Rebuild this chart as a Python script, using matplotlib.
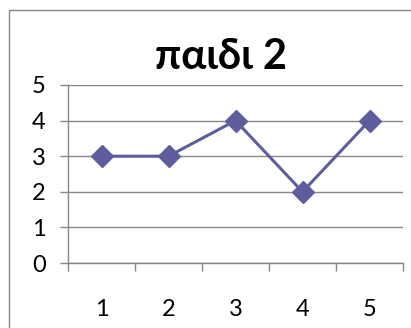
import matplotlib.pyplot as plt
from matplotlib.patches import Rectangle

# Data
categories = [1, 2, 3, 4, 5]
values = [3, 3, 4, 2, 4]
title = "παιδι 2"

plt.rcParams['font.family'] = ['Lato', 'Noto Sans', 'DejaVu Sans']

line_color = "#5E5E9E"
grid_color = "#878787"

fig = plt.figure(figsize=(4.11, 3.28), dpi=100)

# Chart area border
fig.patches.append(Rectangle((8.5 / 411, -0.1), 1.0, 1.1 - 9.5 / 328,
                             transform=fig.transFigure, fill=False,
                             edgecolor="#868686", linewidth=1.0))

ax = fig.add_axes([68 / 411, 65 / 328, 335 / 411, 178 / 328])

ax.plot(categories, values, color=line_color, linewidth=2.2,
        marker="D", markersize=11, markerfacecolor=line_color,
        markeredgecolor=line_color, zorder=3)

ax.set_xlim(0.5, 5.5)
ax.set_ylim(0, 5)
ax.set_yticks(range(0, 6))
ax.set_xticks(categories)
ax.set_xticks([c - 0.5 for c in categories] + [5.5], minor=True)

ax.grid(axis="y", color=grid_color, linewidth=1.0)
ax.set_axisbelow(True)

for side in ["top", "right"]:
    ax.spines[side].set_visible(False)
for side in ["left", "bottom"]:
    ax.spines[side].set_color(grid_color)
    ax.spines[side].set_linewidth(1.0)

ax.tick_params(axis="y", length=6, width=1.0, color=grid_color,
               labelsize=17, pad=10)
ax.tick_params(axis="x", which="major", length=0, labelsize=17, pad=26)
ax.tick_params(axis="x", which="minor", length=5.5, width=1.0, color=grid_color)

fig.text(221 / 411, 1 - 57 / 328, title, ha="center", va="center",
         fontsize=30, fontweight="bold")

fig.savefig("out.png", dpi=100)
